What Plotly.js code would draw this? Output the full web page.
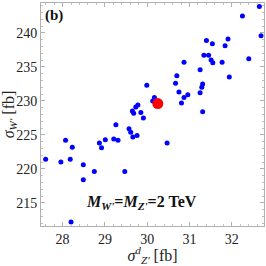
<!DOCTYPE html>
<html><head><meta charset="utf-8">
<script src="https://cdn.plot.ly/plotly-3.0.1.min.js"></script>
<style>html,body{margin:0;padding:0;background:#fff}#chart{width:266px;height:266px}</style>
</head><body><div id="chart"></div>
<script>
const sigmaZ = [32.65,32.25,32.69,31.40,31.91,31.54,31.84,31.34,31.45,31.51,31.55,31.77,32.40,30.87,31.25,31.94,30.70,30.67,31.31,31.29,29.99,30.75,30.96,30.87,31.25,30.17,30.13,30.81,31.31,29.78,29.73,29.65,29.68,29.85,29.91,29.26,29.57,29.61,29.66,29.76,28.07,28.23,28.87,29.01,29.21,29.31,28.92,30.47,27.60,27.96,28.18,28.49,28.75,29.47,28.49,28.20];
const sigmaW = [243.9,242.5,239.6,238.9,239.1,238.4,238.1,236.7,236.7,236.0,235.6,235.7,236.2,235.7,234.6,233.5,233.7,232.6,232.5,232.0,232.3,231.3,230.9,230.5,231.2,230.5,230.0,229.7,228.4,229.4,229.1,228.5,228.2,228.3,227.5,226.5,225.9,225.4,224.7,224.9,224.2,223.2,223.8,224.3,224.4,224.2,223.1,223.8,221.4,221.0,221.4,220.6,219.6,219.6,218.4,212.2];
const smZ = [30.25];
const smW = [229.6];
const xTicks = [28,29,30,31,32];
const yTicks = [215,220,225,230,235,240];

const serif = "Liberation Serif, Times New Roman, serif";
const axisCommon = {
  showline: true, linecolor: '#b0b0b0', linewidth: 1, mirror: 'allticks',
  ticks: 'inside', ticklen: 4, tickcolor: '#b0b0b0', tickwidth: 1,
  showgrid: false, zeroline: false,
  tickfont: {family: serif, size: 14, color: '#222'}
};
const data = [
  {x: sigmaZ, y: sigmaW, type: 'scatter', mode: 'markers',
   marker: {color: '#0000ff', size: 5}, hoverinfo: 'none'},
  {x: smZ, y: smW, type: 'scatter', mode: 'markers',
   marker: {color: '#ff0000', size: 11}, hoverinfo: 'none'}
];
const layout = {
  width: 266, height: 266,
  margin: {l: 41, r: 2, t: 3, b: 40},
  paper_bgcolor: '#fff', plot_bgcolor: '#fff',
  showlegend: false,
  xaxis: Object.assign({}, axisCommon, {
    range: [27.49, 32.76], tickvals: xTicks, ticktext: xTicks.map(String),
    minor: {dtick: 0.2, ticks: 'inside', ticklen: 2, tickcolor: '#c0c0c0'},
    title: {text: "<i>σ</i><sup><i>d</i></sup><sub><i>Z'</i></sub> [fb]", font: {family: serif, size: 16, color: '#222'}, standoff: 2}
  }),
  yaxis: Object.assign({}, axisCommon, {
    range: [211.6, 244.4], tickvals: yTicks, ticktext: yTicks.map(String),
    minor: {dtick: 1, ticks: 'inside', ticklen: 2, tickcolor: '#c0c0c0'},
    title: {text: "<i>σ</i><sub><i>W'</i></sub> [fb]", font: {family: serif, size: 16, color: '#222'}, standoff: 3}
  }),
  annotations: [
    {text: "<b>(b)</b>", xref: 'paper', yref: 'paper', x: 0.01, y: 0.99, xanchor: 'left', yanchor: 'top',
     showarrow: false, font: {family: serif, size: 15, color: '#111'}},
    {text: "<b><i>M</i><sub><i>W'</i></sub>=<i>M</i><sub><i>Z'</i></sub>=2 TeV</b>", xref: 'x', yref: 'y',
     x: 29.87, y: 215.0, xanchor: 'center', yanchor: 'middle',
     showarrow: false, font: {family: serif, size: 16, color: '#111'}}
  ]
};
Plotly.newPlot('chart', data, layout, {staticPlot: true, displayModeBar: false});
</script></body></html>
